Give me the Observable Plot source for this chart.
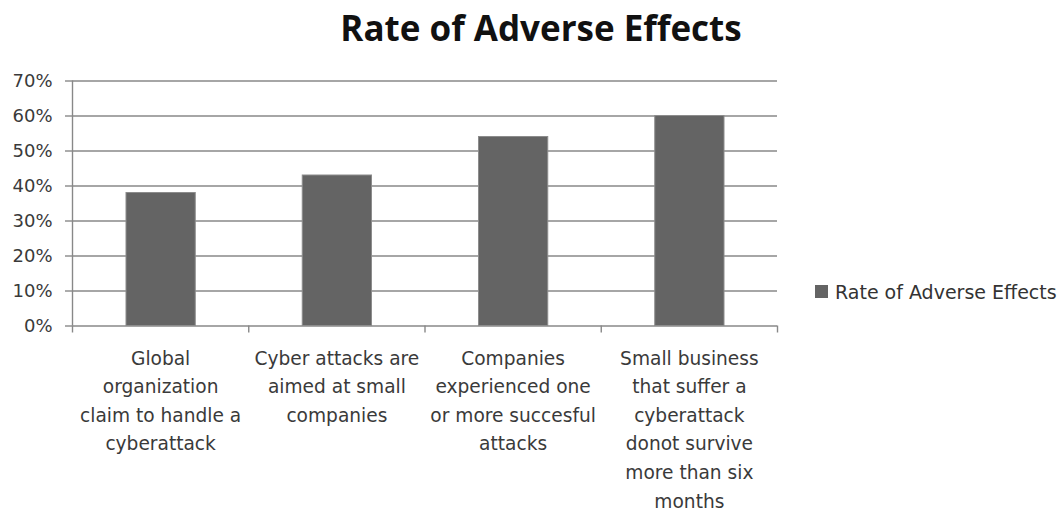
<!DOCTYPE html>
<html><head><meta charset="utf-8">
<script src="https://cdn.jsdelivr.net/npm/d3@7"></script>
<script src="https://cdn.jsdelivr.net/npm/@observablehq/plot@0.6"></script>
<style>
body{margin:0;background:#fff;}
#wrap{position:relative;width:1062px;height:513px;overflow:hidden;}
#title{position:absolute;left:0;top:9.5px;width:1082px;text-align:center;font-family:"Open Sans",sans-serif;font-weight:700;font-size:35px;line-height:35px;color:#111;white-space:nowrap;}
#sw{position:absolute;left:815px;top:285px;width:13px;height:13px;background:#646464;}
#legtext{position:absolute;left:835px;top:282.5px;font-family:"DejaVu Sans",sans-serif;font-size:19px;line-height:19px;color:#333;white-space:nowrap;}
#chart{position:absolute;left:0;top:0;}
</style></head>
<body>
<div id="wrap"><div id="chart"></div><div id="title"></div><div id="sw"></div><div id="legtext"></div></div>
<script>
const seriesName = "Rate of Adverse Effects";
const categories = [
  "Global organization claim to handle a cyberattack",
  "Cyber attacks are aimed at small companies",
  "Companies experienced one or more succesful attacks",
  "Small business that suffer a cyberattack donot survive more than six months"
];
const values = [0.38, 0.43, 0.54, 0.60];
const tickLabels = [
  "Global\norganization\nclaim to handle a\ncyberattack",
  "Cyber attacks are\naimed at small\ncompanies",
  "Companies\nexperienced one\nor more succesful\nattacks",
  "Small business\nthat suffer a\ncyberattack\ndonot survive\nmore than six\nmonths"
];
const yTicks = [0, 0.1, 0.2, 0.3, 0.4, 0.5, 0.6, 0.7];

const data = categories.map((c, i) => ({category: c, index: i, value: values[i]}));
const bounds = d3.range(categories.length + 1);
const centers = categories.map((c, i) => i + 0.5);

document.getElementById("title").textContent = seriesName;
document.getElementById("legtext").textContent = seriesName;

const grid = "#888888";
const font = "'DejaVu Sans', sans-serif";
const chart = Plot.plot({
  width: 1062, height: 513,
  marginLeft: 72, marginRight: 285, marginTop: 80.5, marginBottom: 187.5,
  x: {type: "linear", domain: [0, categories.length], axis: null},
  y: {domain: [0, 0.7], axis: null},
  style: {fontFamily: font, fontSize: "18px", color: "#3a3a3a", background: "transparent"},
  marks: [
    Plot.ruleY(yTicks, {stroke: grid, strokeWidth: 1.4}),
    Plot.axisY({ticks: yTicks, tickFormat: d3.format(".0%"), tickSize: 7, tickPadding: 13, stroke: grid, strokeWidth: 1.4, label: null, fontSize: 18, fontFamily: font}),
    Plot.ruleX([0], {stroke: grid, strokeWidth: 1.4}),
    Plot.rectY(data, {x1: "index", x2: d => d.index + 1, y: "value", insetLeft: 54, insetRight: 53, fill: "#646464", stroke: "#8c8c8c", strokeWidth: 1}),
    Plot.axisX({ticks: bounds, tickFormat: () => "", tickSize: 7, stroke: grid, strokeWidth: 1.4, label: null}),
    Plot.axisX({ticks: centers, tickFormat: d => tickLabels[Math.floor(d)], tickSize: 0, tickPadding: 18.3, lineHeight: 1.538, label: null, fontSize: 18.6, fontFamily: font})
  ]
});
document.getElementById("chart").appendChild(chart);
</script>
</body></html>
